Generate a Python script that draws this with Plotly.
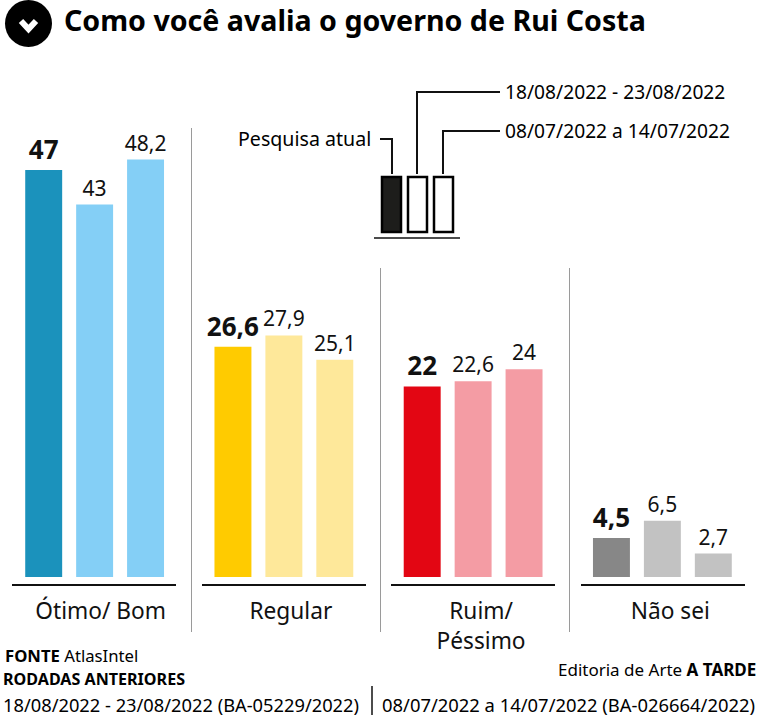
import plotly.graph_objects as go

W, H = 757, 716
FONT = "Noto Sans"

categories = ["Ótimo/ Bom", "Regular", "Ruim/<br>Péssimo", "Não sei"]
atual = [47, 26.6, 22, 4.5]
agosto = [43, 27.9, 22.6, 6.5]
julho = [48.2, 25.1, 24, 2.7]
atual_labels = ["47", "26,6", "22", "4,5"]
agosto_labels = ["43", "27,9", "22,6", "6,5"]
julho_labels = ["48,2", "25,1", "24", "2,7"]
atual_colors = ["#1b92bc", "#ffcb00", "#e30613", "#878787"]
previous_colors = ["#84cff6", "#fee89a", "#f49ca4", "#c2c2c2"]
positions = list(range(len(categories)))
label_nudge = [0.032, 0.037, 0.042, 0.042]


def px(x):
    return x / W


def py(y):
    return 1 - y / H


fig = go.Figure()
series = [
    ("Pesquisa atual", atual, atual_labels, atual_colors, True),
    ("18/08/2022 - 23/08/2022", agosto, agosto_labels, previous_colors, False),
    ("08/07/2022 a 14/07/2022", julho, julho_labels, previous_colors, False),
]
for name, vals, labels, colors, bold in series:
    fig.add_trace(go.Bar(
        name=name, x=positions, y=vals, text=labels,
        textposition="outside", cliponaxis=False, constraintext="none",
        marker=dict(color=colors, line=dict(width=0)),
        textfont=dict(family=FONT, color="#111111", size=26 if bold else 21,
                      weight=700 if bold else 400),
        showlegend=False, hoverinfo="skip",
    ))

shapes = []


def line(x0, y0, x1, y1, color="#000000", width=2):
    shapes.append(dict(type="line", xref="paper", yref="paper",
                       x0=px(x0), y0=py(y0), x1=px(x1), y1=py(y1),
                       line=dict(color=color, width=width)))


def poly(points, color="#000000", width=2):
    path = "M " + " L ".join(f"{px(x):.5f},{py(y):.5f}" for x, y in points)
    shapes.append(dict(type="path", xref="paper", yref="paper", path=path,
                       line=dict(color=color, width=width)))


# category baselines and dividers
for a, b in [(12, 176), (202, 366), (391, 555), (581, 745)]:
    line(a, 585, b, 585, "#111111", 2)
line(191.5, 128, 191.5, 632, "#9a9a9a", 1)
line(380.5, 268, 380.5, 632, "#9a9a9a", 1)
line(569.5, 268, 569.5, 632, "#9a9a9a", 1)
line(372, 686, 372, 715, "#111111", 1.5)

# title icon
shapes.append(dict(type="circle", xref="paper", yref="paper",
                   x0=px(5), x1=px(52), y0=py(47), y1=py(0),
                   fillcolor="#000000", line=dict(width=0)))
poly([(21, 21), (28.5, 29), (36, 21)], "#ffffff", 6)

# legend glyph
for a, b, fill in [(382, 401, "#1d1d1b"), (408, 427, "#ffffff"), (434, 453, "#ffffff")]:
    shapes.append(dict(type="rect", xref="paper", yref="paper",
                       x0=px(a), x1=px(b), y0=py(232), y1=py(177),
                       fillcolor=fill, line=dict(color="#000000", width=2.5)))
line(374, 238, 460, 238, "#111111", 1.5)
poly([(380, 139), (392, 139), (392, 174)], "#111111", 2)
poly([(500, 92), (417, 92), (417, 174)], "#111111", 2)
poly([(500, 131), (443, 131), (443, 174)], "#111111", 2)


def note(text, x, y, size, anchor="left", color="#000000"):
    return dict(text=text, x=px(x), y=py(y), xref="paper", yref="paper",
                xanchor=anchor, yanchor="middle", showarrow=False, align=anchor,
                borderpad=0, borderwidth=0,
                font=dict(family=FONT, size=size, color=color))


annotations = [
    note("<b>Como você avalia o governo de Rui Costa</b>", 64, 19, 28.6),
    note("Pesquisa atual", 238, 139, 19.6),
    note("18/08/2022 - 23/08/2022", 505, 91, 19.2),
    note("08/07/2022 a 14/07/2022", 505, 130, 19.2),
    note("<b>FONTE</b> AtlasIntel", 5, 655, 16.7),
    note("<b>RODADAS ANTERIORES</b>", 3, 679, 16.1),
    note("18/08/2022 - 23/08/2022 (BA-05229/2022)", 3, 704, 18.3),
    note("08/07/2022 a 14/07/2022 (BA-026664/2022)", 382, 704, 18.4),
    note("Editoria de Arte <b>A TARDE</b>", 756, 669, 17, "right"),
]

fig.update_layout(
    width=W, height=H, autosize=False,
    margin=dict(l=0, r=0, t=0, b=0),
    paper_bgcolor="#ffffff", plot_bgcolor="#ffffff",
    barmode="group", bargap=0.1926, bargroupgap=0.2745,
    shapes=shapes, annotations=annotations,
    xaxis=dict(domain=[0, 1], range=[-0.5, 3.5], showgrid=False,
               tickvals=[p + n for p, n in zip(positions, label_nudge)], ticktext=categories,
               zeroline=False, showline=False, ticks="outside", ticklen=14,
               tickcolor="rgba(0,0,0,0)", tickfont=dict(family=FONT, size=22.7, color="#111111")),
    yaxis=dict(domain=[py(577), 1], range=[0, 577 / 8.66], visible=False),
)

fig.write_html("out.html", config={"displayModeBar": False},
               post_script="document.body.style.margin='0';document.body.style.overflow='hidden';")
